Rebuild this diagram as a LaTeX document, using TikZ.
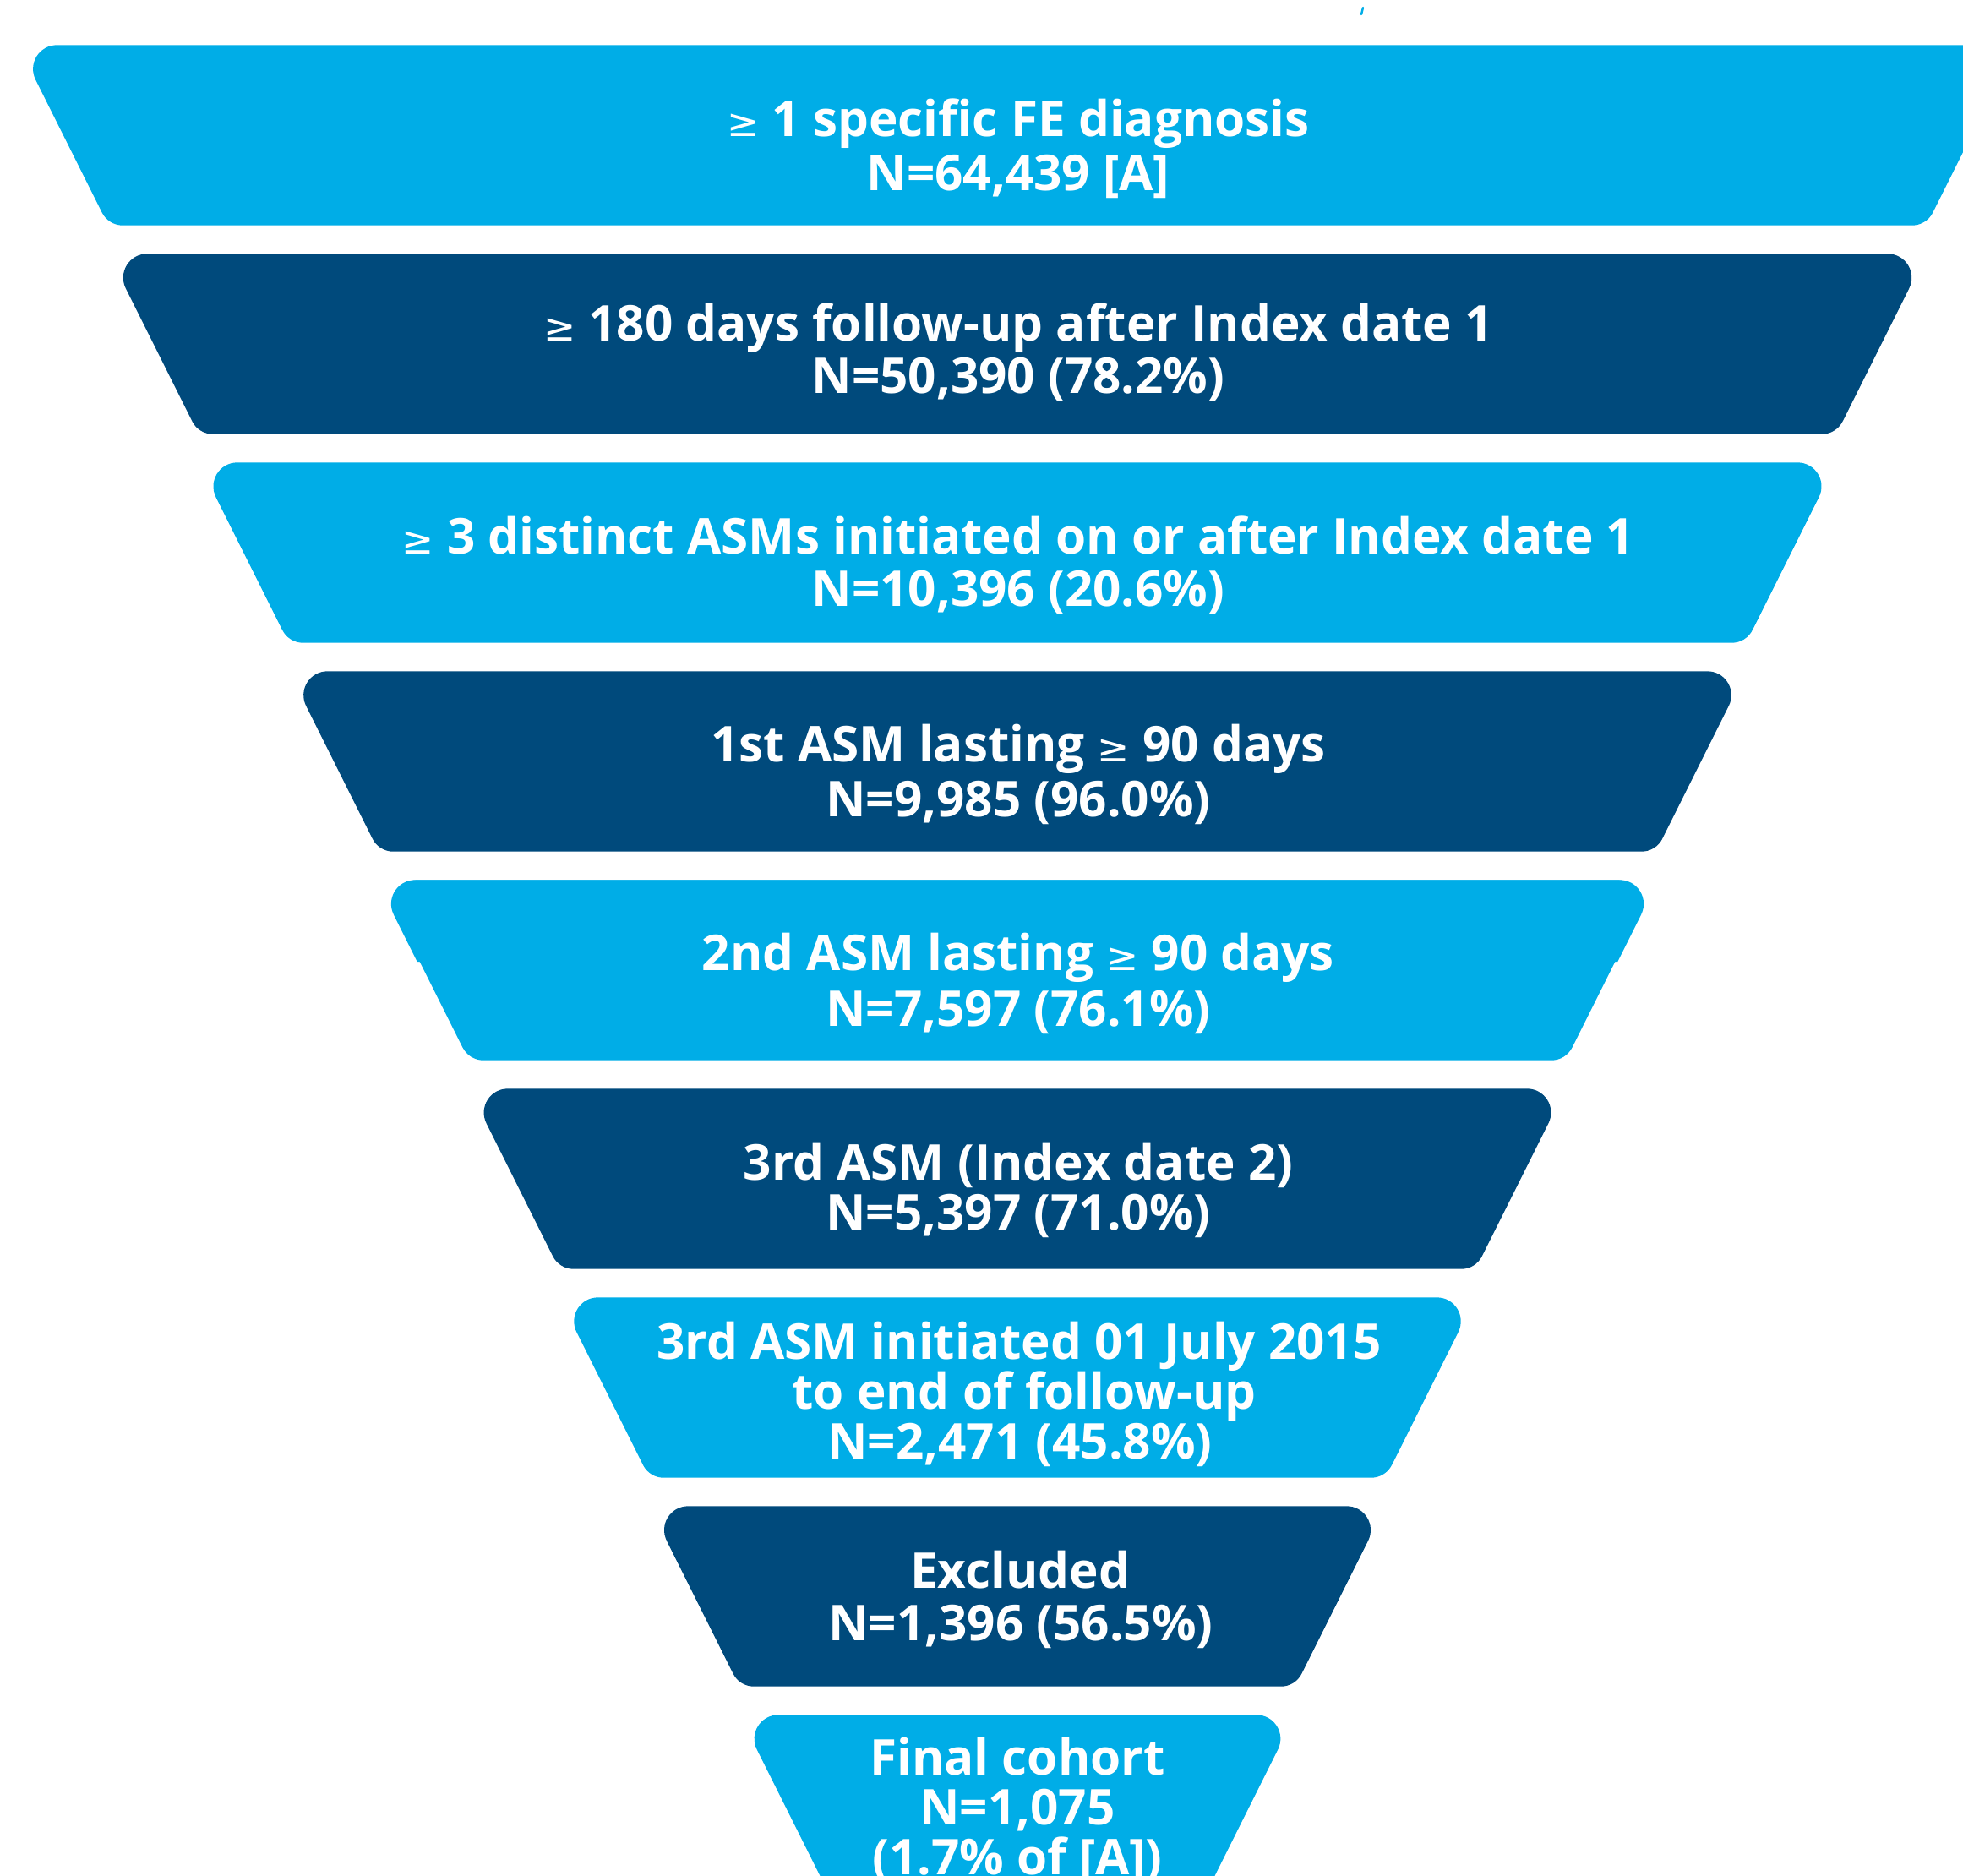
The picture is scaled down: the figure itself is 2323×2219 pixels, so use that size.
\documentclass[tikz,border=0pt]{standalone}
\usepackage{fontspec}
\IfFontExistsTF{Noto Sans Bold}
  {\setmainfont{Noto Sans}[BoldFont={Noto Sans Bold}]}
  {\IfFontExistsTF{NotoSans-Bold.ttf}
    {\setmainfont{Noto Sans}[BoldFont={NotoSans-Bold.ttf}]}
    {\IfFontExistsTF{Open Sans Bold}
      {\setmainfont{Open Sans}[BoldFont={Open Sans Bold}]}
      {\setmainfont{Noto Sans}[BoldFont={Noto Sans},BoldFeatures={FakeBold=2}]}}}
\newfontfamily\geqfam{DejaVu Sans}[Scale=0.78]
\definecolor{lightfun}{HTML}{00ADE7}
\definecolor{darkfun}{HTML}{004A7C}
\newcommand\gq{{\geqfam\mdseries ≥}}
% band: #1 xa (top-left x), #2 ya (top y), #3 colour
\newcommand\funband[3]{%
  \pgfmathsetmacro\xa{#1}\pgfmathsetmacro\ya{#2}%
  \pgfmathsetmacro\yb{\ya+213.4}%
  \pgfmathsetmacro\xb{\xa+106.7}%
  \pgfmathsetmacro\xc{2408-\xa}%
  \pgfmathsetmacro\xd{2408-\xb}%
  \fill[#3] (\xa+46,\ya) -- (\xc-46,\ya)
    .. controls (\xc-24.7,\ya) and (\xc-24.7*0.4472,\ya+24.7*0.8944) .. (\xc-46*0.4472,\ya+46*0.8944)
    -- (\xd+17*0.4472,\yb-17*0.8944)
    .. controls (\xd+6.6*0.4472,\yb-6.6*0.8944) and (\xd-6.6,\yb) .. (\xd-17,\yb)
    -- (\xb+17,\yb)
    .. controls (\xb+6.6,\yb) and (\xb-6.6*0.4472,\yb-6.6*0.8944) .. (\xb-17*0.4472,\yb-17*0.8944)
    -- (\xa+46*0.4472,\ya+46*0.8944)
    .. controls (\xa+24.7*0.4472,\ya+24.7*0.8944) and (\xa+24.7,\ya) .. (\xa+46,\ya) -- cycle;}
\begin{document}
\begin{tikzpicture}[x=0.25pt,y=-0.25pt,
  rowtext/.style={anchor=base,text=white,inner sep=0pt,font=\fontsize{14.6pt}{15.75pt}\selectfont\bfseries}]
\useasboundingbox (0,0) rectangle (2323,2219);
\clip (0,0) rectangle (2323,2219);
\foreach \k/\col in {0/lightfun,1/darkfun,2/lightfun,3/darkfun,4/lightfun,5/darkfun,6/lightfun,7/darkfun,8/lightfun}{
  \funband{21.6+106.7*\k}{53.3+247*\k}{\col}
}
% small step on the edges of the fifth band
\pgfmathsetmacro\ya{53.3+247*4}
\pgfmathsetmacro\xa{21.6+106.7*4-3}
\pgfmathsetmacro\xc{2408-\xa}
\pgfmathsetmacro\xl{\xa+(1138-\ya)*0.5}
\pgfmathsetmacro\xr{2408-\xl}
\fill[lightfun] (\xl,1138) -- (\xa+46*0.4472,\ya+46*0.8944)
    .. controls (\xa+24.7*0.4472,\ya+24.7*0.8944) and (\xa+24.7,\ya) .. (\xa+46,\ya)
    -- (\xc-46,\ya)
    .. controls (\xc-24.7,\ya) and (\xc-24.7*0.4472,\ya+24.7*0.8944) .. (\xc-46*0.4472,\ya+46*0.8944)
    -- (\xr,1138) -- cycle;
% tiny mark at the top
\draw[lightfun, line width=0.6pt, line cap=round] (1613,9) -- (1611,17);

\node[rowtext] (r1a) at (1205,161.7) {\gq{} 1 specific FE diagnosis};
\node[rowtext] (r1b) at (1205,225.4) {N=64,439 [A]};
\node[rowtext] (r2a) at (1205,403) {\gq{} 180 days follow-up after Index date 1};
\node[rowtext] (r2b) at (1205,465) {N=50,390 (78.2\%)};
\node[rowtext] (r3a) at (1205,655) {\gq{} 3 distinct ASMs initiated on or after Index date 1};
\node[rowtext] (r3b) at (1205,717) {N=10,396 (20.6\%)};
\node[rowtext] (r4a) at (1205,901) {1st ASM lasting \gq{} 90 days};
\node[rowtext] (r4b) at (1205,966) {N=9,985 (96.0\%)};
\node[rowtext] (r5a) at (1205,1148) {2nd ASM lasting \gq{} 90 days};
\node[rowtext] (r5b) at (1205,1214) {N=7,597 (76.1\%)};
\node[rowtext] (r6a) at (1205,1396) {3rd ASM (Index date 2)};
\node[rowtext] (r6b) at (1205,1455) {N=5,397 (71.0\%)};
\node[rowtext] (r7a) at (1206,1608) {3rd ASM initiated 01 July 2015};
\node[rowtext] (r7b) at (1212,1667) {to end of follow-up};
\node[rowtext] (r7c) at (1207,1726) {N=2,471 (45.8\%)};
\node[rowtext] (r8a) at (1207,1879) {Excluded};
\node[rowtext] (r8b) at (1208,1941) {N=1,396 (56.5\%)};
\node[rowtext] (r9a) at (1204,2100) {Final cohort};
\node[rowtext] (r9b) at (1204,2159) {N=1,075};
\node[rowtext] (r9c) at (1204,2218) {(1.7\% of [A])};
\end{tikzpicture}
\end{document}
